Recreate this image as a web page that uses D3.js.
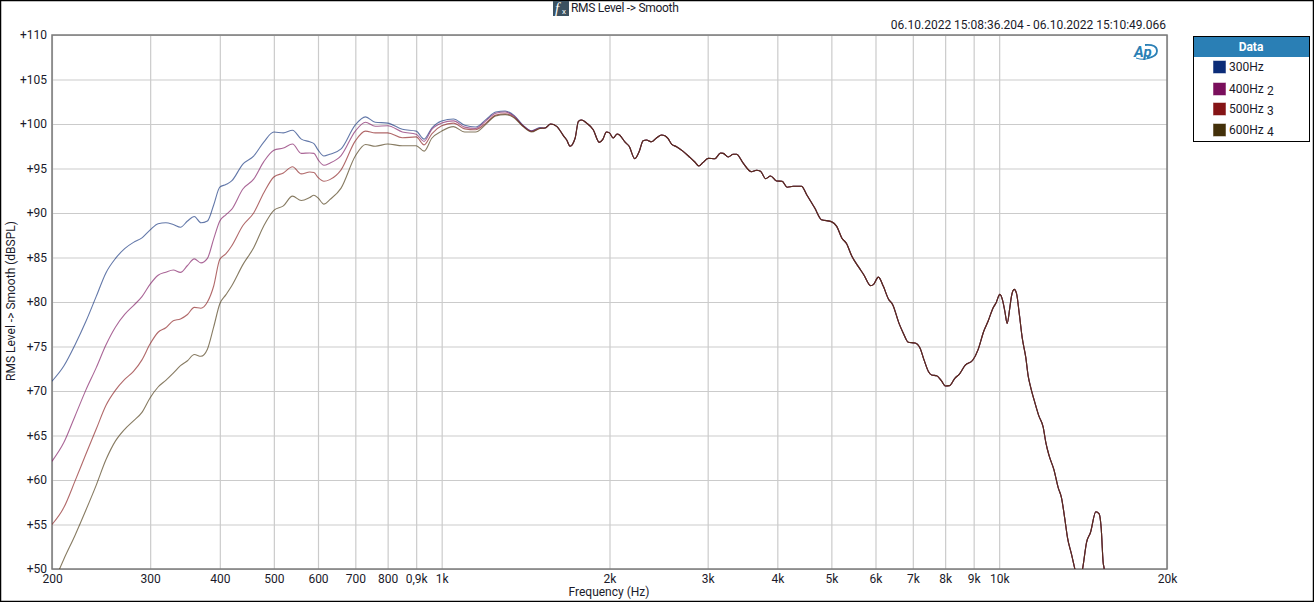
<!DOCTYPE html>
<html><head><meta charset="utf-8">
<script src="https://cdn.jsdelivr.net/npm/d3@7/dist/d3.min.js"></script>
<style>
html,body{margin:0;padding:0;background:#fff;overflow:hidden}
svg{display:block}
text{font-family:Roboto,sans-serif;font-size:12px;fill:#1a1a2a}
</style></head><body><div id="c"></div>
<script>
const xTickValues=[200,300,400,500,600,700,800,900,1000,2000,3000,4000,5000,6000,7000,8000,9000,10000,20000];
const xTickLabels=["200","300","400","500","600","700","800","0,9k","1k","2k","3k","4k","5k","6k","7k","8k","9k","10k","20k"];
const yTickValues=[50,55,60,65,70,75,80,85,90,95,100,105,110];
const seriesNames=["300Hz","400Hz","500Hz","600Hz"];
const seriesSuffix=["","2","3","4"];
const seriesColors=["#0b2c78","#7a0f5c","#851416","#43300a"];
const lowFreq=[200,210,220,230,240,250,260,270,280,290,300,310,320,330,340,350,360,370,380,390,400,410,420,440,460,480,500,520,540,560,580,590,600,615,630,660,700,730,760,800,850,900,930,960,1000,1050,1100,1150,1200,1250,1300,1350,1400,1450,1500];
const s300=[71.1,72.8,75.2,77.8,80.6,83.3,84.9,86.0,86.7,87.2,88.1,88.8,88.9,88.7,88.4,89.1,89.6,88.9,89.1,90.9,92.9,93.2,93.6,95.5,96.4,98.0,99.1,99.0,99.3,98.3,98.0,97.8,97.1,96.4,96.6,97.2,99.9,100.8,100.2,100.1,99.4,99.2,98.3,99.55,100.34,100.56,99.85,99.66,100.49,101.35,101.46,100.94,99.85,99.25,99.6];
const s400=[62.1,64.2,67.2,70.1,72.6,75.2,77.2,78.6,79.6,80.6,82.0,83.0,83.35,83.6,83.33,84.1,84.85,84.4,84.9,87.1,89.1,89.8,90.4,92.7,93.8,95.8,97.05,97.3,97.75,96.7,96.75,96.7,96.0,95.36,95.6,96.45,99.2,100.2,99.75,99.8,99.1,98.85,98.05,99.4,100.1,100.35,99.65,99.5,100.35,101.2,101.35,100.85,99.8,99.2,99.55];
const s500=[55,56.9,59.9,62.9,65.7,68.4,70.1,71.3,72.2,73.5,75.3,76.6,77.1,77.9,78.1,78.6,79.4,79.3,80.0,81.8,84.8,85.4,86.3,88.6,90.0,92.3,94.05,94.5,95.2,94.4,94.6,94.55,94.0,93.56,93.75,94.85,98.1,99.2,99.0,99.0,98.45,98.55,97.65,98.9,99.8,100.1,99.45,99.35,100.1,101.0,101.15,100.75,99.75,99.15,99.5];
const s600=[48,51.1,53.8,56.6,59.4,62.3,64.4,65.7,66.65,67.6,69.25,70.45,71.2,72.0,72.85,73.4,74.1,73.9,74.7,77.2,79.8,80.8,81.8,84.2,86.1,88.6,90.3,90.8,91.9,91.4,91.75,92.0,91.7,91.0,91.5,92.8,96.4,97.7,97.5,97.75,97.55,97.55,96.95,98.4,99.2,99.7,99.1,99.1,99.96,100.9,101.05,100.67,99.7,99.1,99.5];
const highFreq=[1532,1568,1608,1653,1676,1699,1735,1759,1782,1820,1870,1917,1944,1975,2000,2031,2064,2087,2131,2169,2220,2261,2298,2330,2379,2428,2479,2514,2548,2584,2638,2711,2788,2845,2892,2944,3006,3090,3164,3199,3266,3334,3380,3474,3595,3670,3732,3810,3890,3987,4079,4166,4272,4420,4516,4669,4801,5000,5112,5220,5326,5437,5586,5716,5880,5947,6072,6198,6329,6442,6615,6730,6870,7064,7210,7331,7465,7567,7726,7886,8005,8139,8333,8485,8686,8963,9170,9386,9556,9755,9863,10030,10140,10235,10336,10450,10522,10639,10742,10860,10997,11163,11272,11382,11588,11780,11993,12126,12294,12532,12760,12936,13116,13262,13483,13670,13850,14110,14346,14580,14905,15113,15240,15366,15430,15510];
const highLevel=[99.55,100,99.74,98.7,98.2,97.5,98.4,100.3,100.45,100.1,99.36,97.94,98.24,99.1,99,98.43,98.88,98.73,97.98,97.5,96.1,96.9,98.13,98.2,98,98.43,98.76,98.69,98.35,97.75,97.45,96.93,96.25,95.73,95.28,95.69,96.14,96.1,96.74,96.7,96.3,96.6,96.6,95.6,94.64,94.8,94.7,93.86,94.16,93.6,93.56,92.9,93,93,92.06,90.56,89.25,89.03,88.5,87.2,86.55,85.2,84,83.07,81.84,81.95,82.8,81.76,80.34,79.7,77.57,76.5,75.47,75.4,74.83,73.5,72.2,71.8,71.72,71.1,70.56,70.6,71.46,71.9,72.88,73.45,74.68,76.74,77.87,79.36,79.85,80.86,80.22,78.99,77.6,79.36,80.67,81.42,80.97,78.8,76,73.75,71.7,70.5,68.7,67.2,65.95,64.2,62.7,61.2,59.14,58,55.6,53.5,51.65,50,48.5,50,53,54.1,56.44,56.2,54.6,50.7,50,48];

const W=1314,H=602,L=52,R=1167,T=35,B=569;
const x=d3.scaleLog().domain([200,20000]).range([L,R]);
const y=d3.scaleLinear().domain([50,110]).range([B,T]);
const svg=d3.select("#c").append("svg").attr("width",W).attr("height",H);
svg.append("rect").attr("x",.5).attr("y",.5).attr("width",W-1).attr("height",H-1).attr("fill","#fff").attr("stroke","#000").attr("stroke-width",1.5);

const gx=svg.append("g").attr("transform",`translate(0,${B})`)
 .call(d3.axisBottom(x).tickValues(xTickValues).tickFormat((d,i)=>xTickLabels[i]).tickSize(-(B-T)).tickPadding(5));
const gy=svg.append("g").attr("transform",`translate(${L},0)`)
 .call(d3.axisLeft(y).tickValues(yTickValues).tickFormat(d=>"+"+d).tickSize(-(R-L)).tickPadding(5));
[gx,gy].forEach(g=>{g.select(".domain").remove();g.selectAll("line").attr("stroke","#cbcbcb").attr("stroke-width",1.2);g.selectAll("text").attr("font-size",null);});
svg.append("rect").attr("x",L).attr("y",T).attr("width",R-L).attr("height",B-T).attr("fill","none").attr("stroke","#7a7a7a").attr("stroke-width",1.5);

svg.append("defs").append("clipPath").attr("id","plot").append("rect").attr("x",L).attr("y",T).attr("width",R-L).attr("height",B-T);
const line=d3.line().x(d=>x(d[0])).y(d=>y(d[1])).curve(d3.curveMonotoneX);
const allFreq=lowFreq.concat(highFreq);
const lows=[s300,s400,s500,s600];
const gl=svg.append("g").attr("clip-path","url(#plot)");
lows.forEach((s,i)=>{
  const vals=s.concat(highLevel);
  gl.append("path").attr("d",line(allFreq.map((f,k)=>[f,vals[k]]))).attr("fill","none")
    .attr("stroke",seriesColors[i]).attr("stroke-width",1.1).attr("stroke-opacity",.64);
});

// titles
svg.append("text").attr("x",571).attr("y",12).style("letter-spacing","-0.3px").text("RMS Level -> Smooth");
svg.append("rect").attr("x",553).attr("y",1).attr("width",16).attr("height",15).attr("fill","#3b5160");
svg.append("text").attr("x",555).attr("y",13).attr("font-style","italic").style("font-family","'Liberation Serif',serif").style("font-size","15px").style("fill","#fff").text("f");
svg.append("text").attr("x",562).attr("y",14).style("font-size","8px").style("fill","#fff").text("x");
svg.append("text").attr("x",1166).attr("y",29).attr("text-anchor","end").text("06.10.2022 15:08:36.204 - 06.10.2022 15:10:49.066");
svg.append("text").attr("x",609).attr("y",596).attr("text-anchor","middle").text("Frequency (Hz)");
svg.append("text").attr("transform","translate(15,301) rotate(-90)").attr("text-anchor","middle").text("RMS Level -> Smooth (dBSPL)");

// AP logo
const logo=svg.append("g");
logo.append("path").attr("d","M1145,45 Q1157,44 1157,51 Q1157,57 1147,58").attr("fill","none").attr("stroke","#2a7fb5").attr("stroke-width",1.8);
logo.append("path").attr("d","M1136,58 Q1144,61 1152,57").attr("fill","none").attr("stroke","#2a7fb5").attr("stroke-width",1);
logo.append("text").attr("x",1134).attr("y",57).style("font-size","15px").style("font-weight","700").style("font-style","italic").style("fill","#2a7fb5").text("Ap");

// legend
svg.append("rect").attr("x",1193.5).attr("y",36.5).attr("width",116).attr("height",105).attr("fill","#fff").attr("stroke","#000");
svg.append("rect").attr("x",1194).attr("y",37).attr("width",115).attr("height",20).attr("fill","#2a7fb5");
svg.append("text").attr("x",1251).attr("y",51).attr("text-anchor","middle").style("fill","#fff").style("font-weight","700").text("Data");
const legendY=[67,89,109,130];
seriesNames.forEach((n,i)=>{
  svg.append("rect").attr("x",1213.5).attr("y",legendY[i]-6).attr("width",12).attr("height",12)
    .attr("fill",seriesColors[i]).attr("stroke",seriesColors[i]).attr("stroke-opacity",.5);
  svg.append("text").attr("x",1229).attr("y",legendY[i]+4).text(n);
  if(seriesSuffix[i]) svg.append("text").attr("x",1267).attr("y",legendY[i]+6).text(seriesSuffix[i]);
});
</script></body></html>
